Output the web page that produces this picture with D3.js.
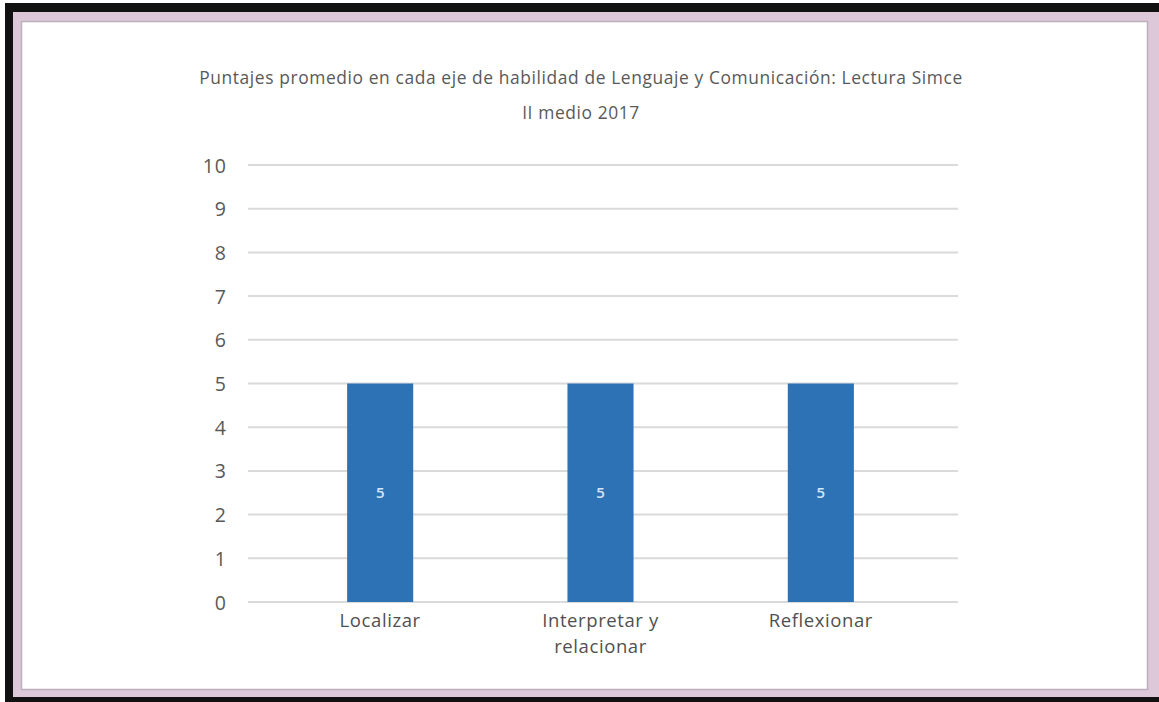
<!DOCTYPE html>
<html>
<head>
<meta charset="utf-8">
<script src="https://cdn.jsdelivr.net/npm/d3@7"></script>
<style>
  html, body { margin: 0; padding: 0; background: #fff; }
  svg { display: block; }
</style>
</head>
<body>
<svg id="chart" width="1159" height="702"></svg>
<script>
// Data
const categories = ["Localizar", "Interpretar y relacionar", "Reflexionar"];
const categoryLines = [["Localizar"], ["Interpretar y", "relacionar"], ["Reflexionar"]];
const values = [5, 5, 5];
const yTicks = [0, 1, 2, 3, 4, 5, 6, 7, 8, 9, 10];
const titleLines = [
  "Puntajes promedio en cada eje de habilidad de Lenguaje y Comunicación: Lectura Simce",
  "II medio 2017"
];

const svg = d3.select("#chart");
const W = 1159, H = 702;
const font = "'Open Sans', 'Noto Sans', sans-serif";

// Frame: black outer edge, pink mat, white panel
svg.append("rect").attr("x", 5).attr("y", 3).attr("width", W).attr("height", H - 3).attr("fill", "#111");
svg.append("rect").attr("x", 13).attr("y", 12).attr("width", W).attr("height", 685).attr("fill", "#dcc8d8");
svg.append("rect").attr("x", 21.5).attr("y", 21.5).attr("width", 1126).attr("height", 668)
  .attr("fill", "#fff").attr("stroke", "#bcaebb").attr("stroke-width", 1.5);

// Scales
const y = d3.scaleLinear().domain([0, 10]).range([602, 165]);
const x = d3.scaleBand().domain(categories).range([270, 931]).paddingInner(0.7).paddingOuter(0.35);
const gridX0 = 248, gridX1 = 958;

// Title
const title = svg.append("text").attr("text-anchor", "middle").attr("font-family", font)
  .attr("font-size", 17.4).attr("letter-spacing", 0.6).attr("fill", "#595959");
titleLines.forEach((t, i) => {
  title.append("tspan").attr("x", 581).attr("y", 84 + i * 35).text(t);
});

// Gridlines
svg.append("g").selectAll("line").data(yTicks).join("line")
  .attr("x1", gridX0).attr("x2", gridX1)
  .attr("y1", d => y(d)).attr("y2", d => y(d))
  .attr("stroke", "#dadada").attr("stroke-width", 2);

// Y axis labels
const yAxis = d3.axisLeft(y).tickValues(yTicks).tickSize(0).tickPadding(0).tickFormat(d3.format("d"));
const gy = svg.append("g").attr("transform", "translate(227,0)").call(yAxis);
gy.select(".domain").remove();
gy.selectAll("text").attr("font-family", font).attr("font-size", 19.5).attr("letter-spacing", 1)
  .attr("fill", "#595959").attr("dy", "0.36em");

// Bars
svg.append("g").selectAll("rect").data(values).join("rect")
  .attr("x", (d, i) => x(categories[i]))
  .attr("y", d => y(d))
  .attr("width", x.bandwidth())
  .attr("height", d => y(0) - y(d))
  .attr("fill", "#2e72b6");

// Value labels inside bars
svg.append("g").selectAll("text").data(values).join("text")
  .attr("x", (d, i) => x(categories[i]) + x.bandwidth() / 2)
  .attr("y", d => (y(d) + y(0)) / 2)
  .attr("dy", "0.35em")
  .attr("text-anchor", "middle")
  .attr("font-family", font).attr("font-size", 15).attr("font-weight", 600)
  .attr("fill", "#d6e6f6")
  .text(d => d);

// Category labels
const gx = svg.append("g");
categoryLines.forEach((lines, i) => {
  const t = gx.append("text").attr("text-anchor", "middle").attr("font-family", font)
    .attr("font-size", 18.5).attr("letter-spacing", 0.6).attr("fill", "#505050");
  lines.forEach((ln, j) => {
    t.append("tspan").attr("x", x(categories[i]) + x.bandwidth() / 2).attr("y", 627 + j * 26).text(ln);
  });
});
</script>
</body>
</html>
